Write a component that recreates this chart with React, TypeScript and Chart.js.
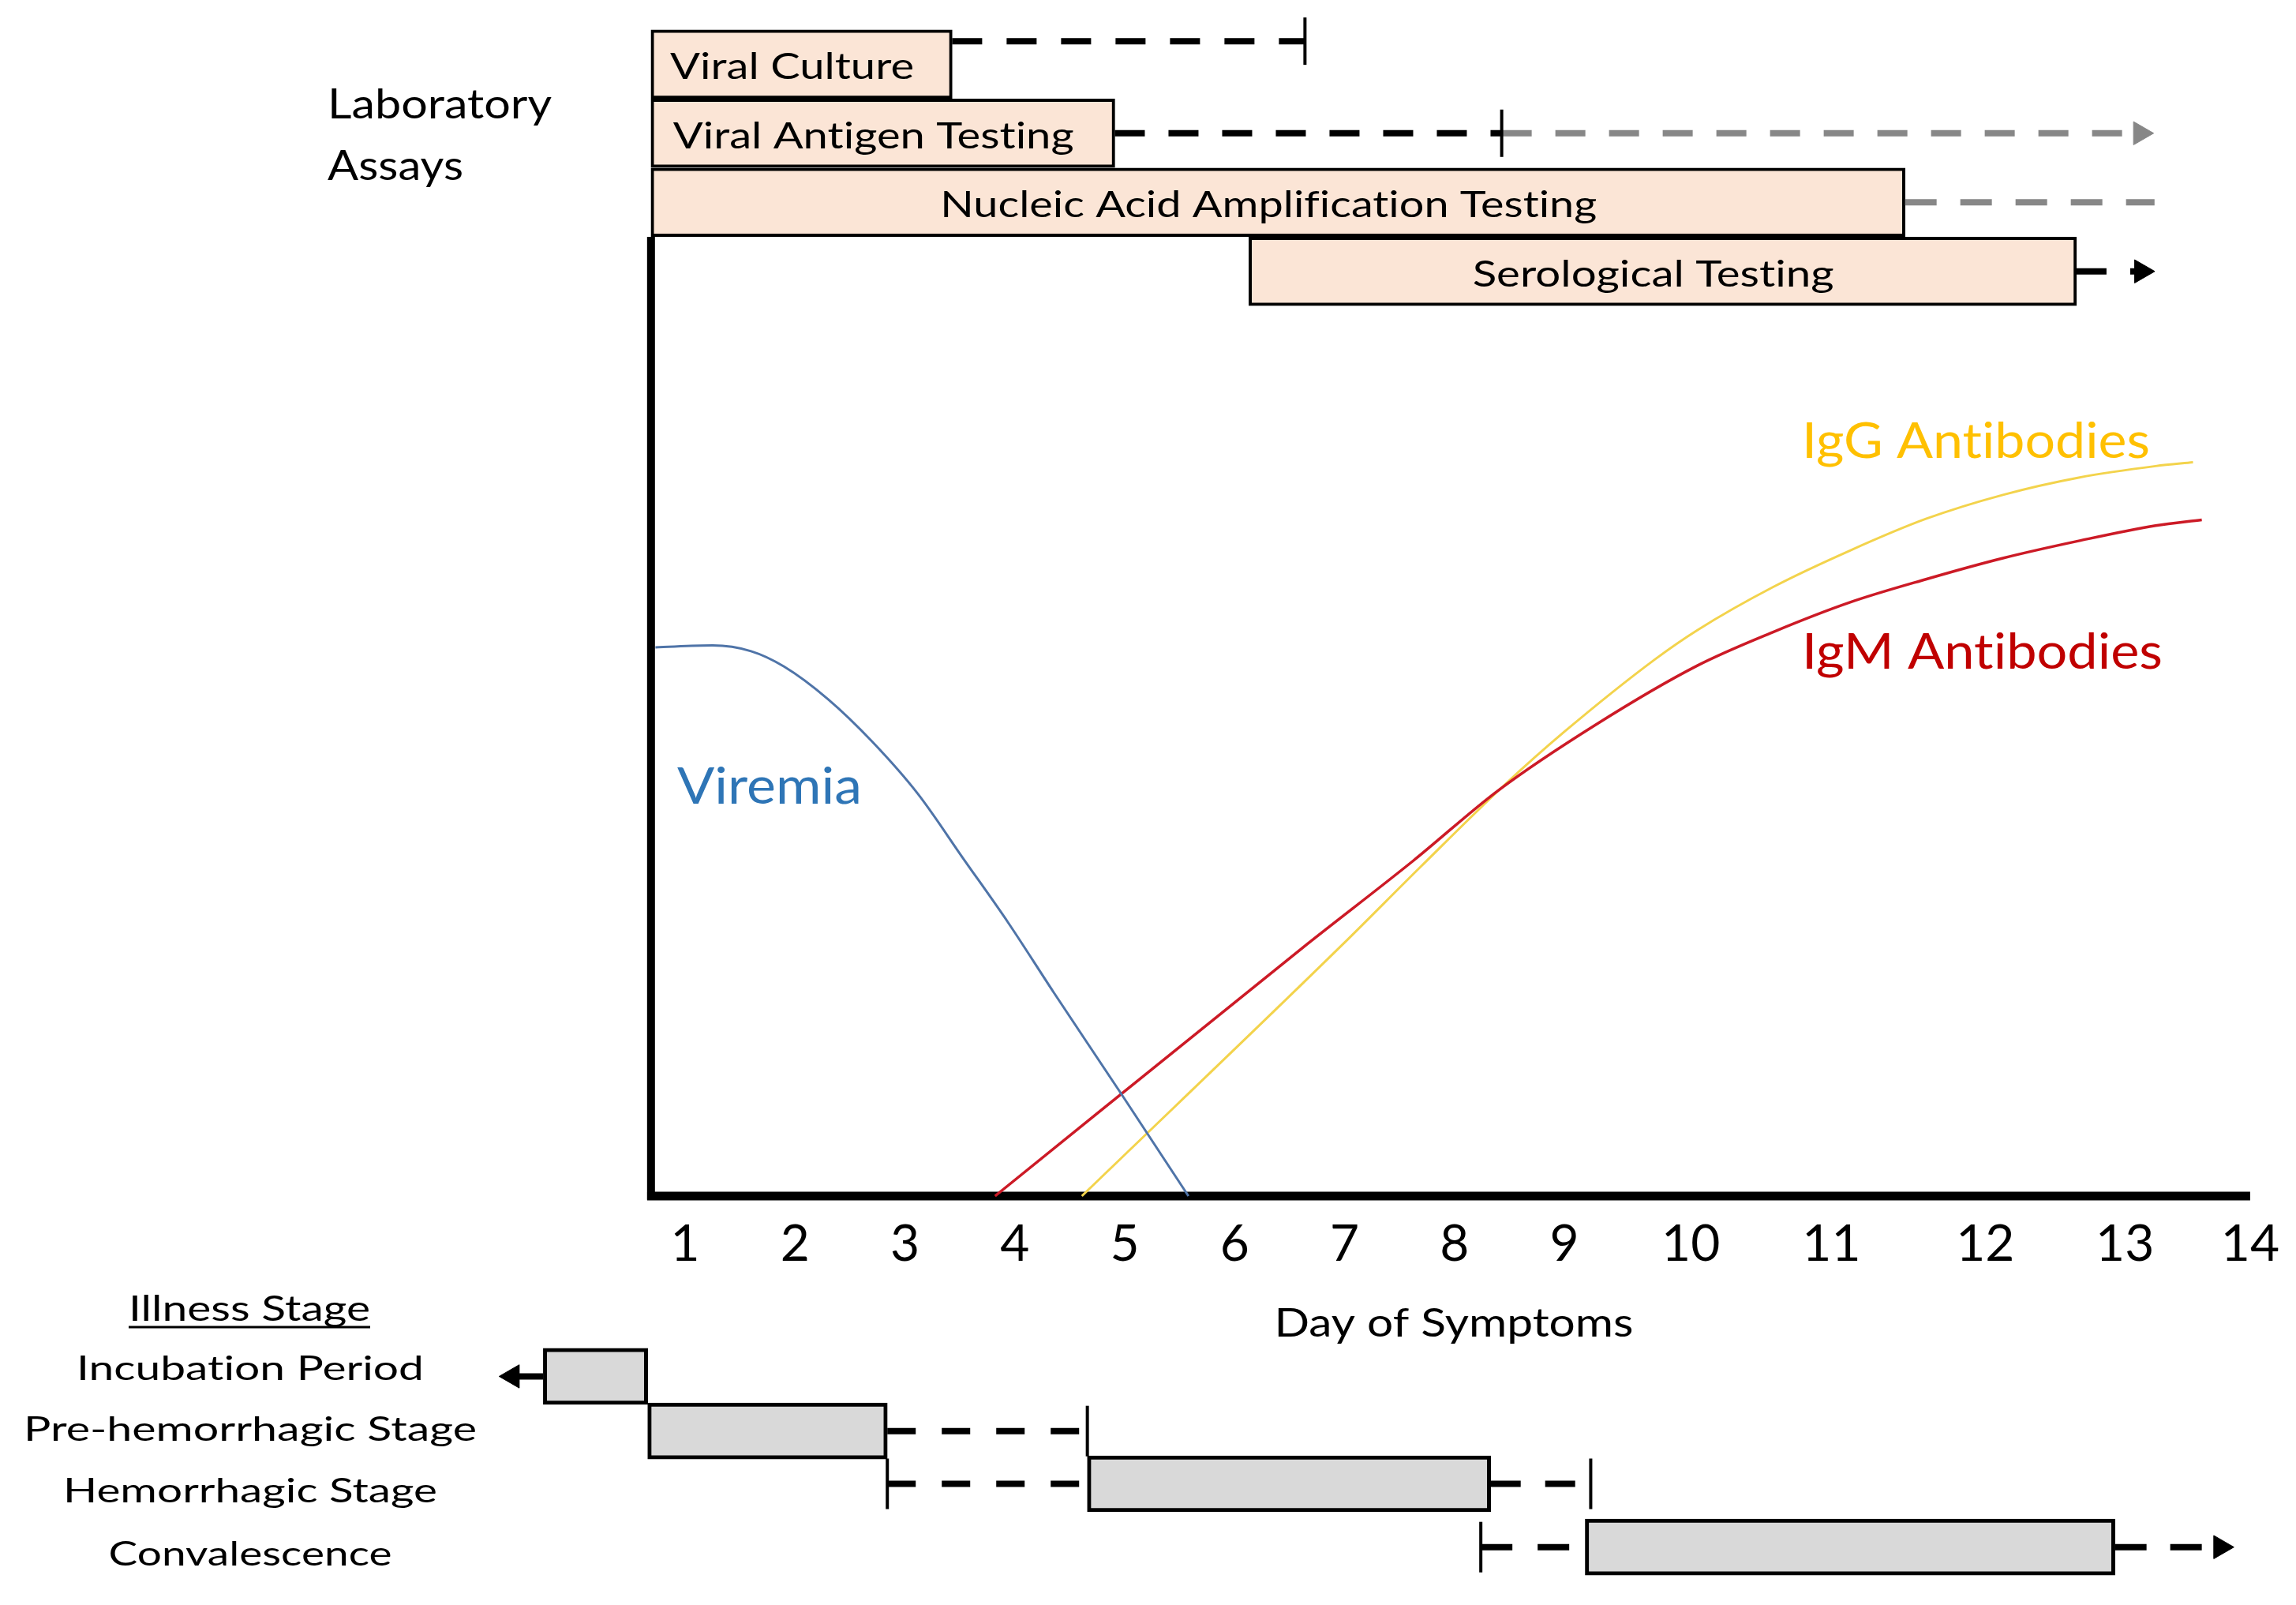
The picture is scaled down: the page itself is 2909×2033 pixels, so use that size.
import React, { useEffect, useRef } from 'react';
import { Chart, registerables } from 'chart.js';

Chart.register(...registerables);

// ---------------- axis ----------------
const tickValues = [1, 2, 3, 4, 5, 6, 7, 8, 9, 10.15, 11.43, 12.83, 14.1, 15.24];
const tickLabels = ['1', '2', '3', '4', '5', '6', '7', '8', '9', '10', '11', '12', '13', '14'];
const axisTitle = 'Day of Symptoms';

// ---------------- curves ----------------
const viremiaX = [0.73, 1.25, 1.6, 1.9, 2.3, 2.7, 3.12, 3.53, 3.94, 4.35, 4.96, 5.58];
const viremiaY = [57.2, 57.4, 56.8, 55.2, 51.8, 47.4, 41.9, 35.2, 28.5, 21.3, 10.8, 0];
const igmX = [3.82, 6.62, 7.63, 8.4, 9.28, 10.21, 10.9, 11.6, 12.29, 12.99, 13.68, 14.38, 14.8];
const igmY = [0, 25.9, 35.0, 42.3, 49.1, 55.3, 58.8, 61.9, 64.3, 66.5, 68.3, 69.9, 70.5];
const iggX = [4.61, 6.98, 7.69, 8.45, 9.01, 9.83, 10.21, 10.9, 11.6, 12.29, 12.99, 13.68, 14.38, 14.72];
const iggY = [0, 26.2, 34.3, 42.8, 48.5, 56.0, 59.0, 63.5, 67.3, 70.6, 73.1, 74.9, 76.1, 76.5];
const curveNames = ['Viremia', 'IgM Antibodies', 'IgG Antibodies'];

// ---------------- laboratory assays ----------------
const assayNames = ['Viral Culture', 'Viral Antigen Testing', 'Nucleic Acid Amplification Testing', 'Serological Testing'];
const assayRow = [118, 110.8, 103.6, 96.4];
const assayStart = [0.69, 0.69, 0.69, 6.13];
const assayEnd = [3.43, 4.91, 12.1, 13.66];
const cultureExt = [3.43, 6.64];
const cultureExtRow = 120.4;
const antigenExt = [4.91, 8.43];
const antigenLateExt = [8.43, 14.24];
const naatExt = [12.1, 14.37];
const serologyExt = [13.66, 14.25];

// ---------------- illness stages ----------------
const stageTitle = 'Illness Stage';
const stageNames = ['Incubation Period', 'Pre-hemorrhagic Stage', 'Hemorrhagic Stage', 'Convalescence'];
const stageRow = [-18.8, -24.5, -30.0, -36.6];
const stageStart = [-0.29, 0.66, 4.66, 9.19];
const stageEnd = [0.66, 2.84, 8.33, 14.01];
const incubationExt = [-0.29, -0.57];
const preHemExt = [2.84, 4.66];
const hemLeadExt = [2.84, 4.66];
const hemTailExt = [8.33, 9.24];
const convLeadExt = [8.24, 9.19];
const convTailExt = [14.01, 14.97];

// ---------------- axis frame lines ----------------
const frameX = [0.655, 15.24];
const frameYAt = 0.69;
const frameY = [-0.4, 100];

// ---------------- layout (pixels / styles) ----------------
const W = 2909;
const H = 2033;
// pixel anchoring of the value axes
const X_ANCHOR_PX = 868; // pixel of x = 1
const X_PX_PER_UNIT = 139.25;
const Y_ANCHOR_PX = 1515; // pixel of y = 0
const Y_PX_PER_UNIT = 12.15;
const FONT = 'Lato';
const BLACK = '#000000';
const GRAY = '#878787';
const ASSAY_FILL = '#fbe5d6';
const STAGE_FILL = '#d9d9d9';
const assayTextWidth = [309, 508, 832, 458];
const stageTextWidth = [440, 574, 474, 359];
const stageTextBaseline = [1748, 1825, 1903, 1983];

type Mark = 'none' | 'cap' | 'arrowR' | 'arrowL';

function drawText(
  ctx: CanvasRenderingContext2D,
  text: string,
  x: number,
  y: number,
  size: number,
  width: number | null,
  align: 'left' | 'center',
  color: string
) {
  ctx.save();
  ctx.font = `${size}px ${FONT}`;
  try {
    (ctx as any).letterSpacing = '0.01px';
  } catch (e) {
    /* ignore */
  }
  ctx.fillStyle = color;
  ctx.textBaseline = 'alphabetic';
  ctx.textAlign = 'left';
  const w = ctx.measureText(text).width;
  const sx = width ? width / w : 1;
  const left = align === 'center' ? x - (w * sx) / 2 : x;
  ctx.translate(left, y);
  ctx.scale(sx, 1);
  ctx.fillText(text, 0, 0);
  ctx.restore();
}

function curve(label: string, xs: number[], ys: number[], color: string, width: number) {
  return {
    type: 'line',
    label,
    data: xs.map((x, i) => ({ x, y: ys[i] })),
    borderColor: color,
    borderWidth: width,
    pointRadius: 0,
    cubicInterpolationMode: 'monotone',
    fill: false,
    order: 1,
    clip: false,
  };
}

function ext(
  label: string,
  range: number[],
  row: number,
  color: string,
  dash: number[],
  startMark: Mark,
  endMark: Mark,
  capRadius = 30
) {
  const marks = [startMark, endMark];
  return {
    type: 'line',
    label,
    data: [
      { x: range[0], y: row },
      { x: range[1], y: row },
    ],
    borderColor: color,
    borderWidth: 8,
    borderDash: dash,
    borderCapStyle: 'butt',
    tension: 0,
    fill: false,
    pointStyle: marks.map((m) => (m === 'cap' ? 'line' : m === 'none' ? 'circle' : 'triangle')),
    pointRotation: marks.map((m) => (m === 'cap' || m === 'arrowR' ? 90 : m === 'arrowL' ? 270 : 0)),
    pointRadius: marks.map((m) => (m === 'none' ? 0 : m === 'cap' ? capRadius : 17)),
    pointBorderWidth: marks.map((m) => (m === 'cap' ? 4 : 1)),
    pointBackgroundColor: color,
    pointBorderColor: color,
    order: 3,
    clip: false,
  };
}

const annotate = {
  id: 'annotate',
  afterDatasetsDraw(chart: any) {
    const ctx: CanvasRenderingContext2D = chart.ctx;
    const metaOf = (label: string) =>
      chart.getDatasetMeta(chart.data.datasets.findIndex((d: any) => d.label === label));

    // labels inside assay boxes
    metaOf('assays').data.forEach((el: any, i: number) => {
      const cx = (el.x + el.base) / 2 - 12;
      drawText(ctx, assayNames[i], cx, el.y + 19, 46, assayTextWidth[i], 'center', BLACK);
    });

    // left-side headings
    drawText(ctx, 'Laboratory', 415, 150, 52, 284, 'left', BLACK);
    drawText(ctx, 'Assays', 415, 228, 52, 172, 'left', BLACK);

    drawText(ctx, stageTitle, 316, 1673, 44, 306, 'center', BLACK);
    ctx.save();
    ctx.strokeStyle = BLACK;
    ctx.lineWidth = 3;
    ctx.beginPath();
    ctx.moveTo(163, 1681);
    ctx.lineTo(469, 1681);
    ctx.stroke();
    ctx.restore();
    stageNames.forEach((name, i) => {
      drawText(ctx, name, 317, stageTextBaseline[i], 42, stageTextWidth[i], 'center', BLACK);
    });

    // x-axis title
    drawText(ctx, axisTitle, 1842, 1693, 50, 455, 'center', BLACK);

    // curve labels
    drawText(ctx, curveNames[0], 858, 1018, 64, 234, 'left', '#2e75b6');
    drawText(ctx, curveNames[2], 2283, 580, 62, 441, 'left', '#ffc000');
    drawText(ctx, curveNames[1], 2283, 847, 62, 457, 'left', '#c00000');
  },
};

export default function App() {
  const canvasRef = useRef<HTMLCanvasElement | null>(null);

  useEffect(() => {
    document.body.style.margin = '0';
    const canvas = canvasRef.current;
    if (!canvas) return;

    const datasets: any[] = [
      curve(curveNames[0], viremiaX, viremiaY, '#4f74a8', 3),
      curve(curveNames[1], igmX, igmY, '#cc1a26', 3.5),
      curve(curveNames[2], iggX, iggY, '#f3d34c', 3),
      {
        type: 'bar',
        label: 'assays',
        indexAxis: 'y',
        grouped: false,
        data: assayNames.map((_, i) => ({ x: [assayStart[i], assayEnd[i]], y: assayRow[i] })),
        backgroundColor: ASSAY_FILL,
        borderColor: BLACK,
        borderWidth: 4,
        borderSkipped: false,
        barThickness: 87,
        order: 5,
        clip: false,
      },
      {
        type: 'bar',
        label: 'stages',
        indexAxis: 'y',
        grouped: false,
        data: stageNames.map((_, i) => ({ x: [stageStart[i], stageEnd[i]], y: stageRow[i] })),
        backgroundColor: STAGE_FILL,
        borderColor: BLACK,
        borderWidth: 5,
        borderSkipped: false,
        barThickness: 71,
        order: 5,
        clip: false,
      },
      ext('culture-ext', cultureExt, cultureExtRow, BLACK, [38, 31], 'none', 'cap'),
      ext('antigen-ext', antigenExt, assayRow[1], BLACK, [38, 30], 'none', 'cap'),
      ext('antigen-late-ext', antigenLateExt, assayRow[1], GRAY, [38, 30], 'none', 'arrowR'),
      ext('naat-ext', naatExt, assayRow[2], GRAY, [40, 30], 'none', 'none'),
      ext('serology-ext', serologyExt, assayRow[3], BLACK, [38, 30], 'none', 'arrowR'),
      ext('incubation-ext', incubationExt, stageRow[0], BLACK, [], 'none', 'arrowL'),
      ext('prehem-ext', preHemExt, stageRow[1], BLACK, [36, 33], 'none', 'cap', 32),
      ext('hem-lead-ext', hemLeadExt, stageRow[2], BLACK, [36, 33], 'cap', 'none', 32),
      ext('hem-tail-ext', hemTailExt, stageRow[2], BLACK, [38, 31], 'none', 'cap', 32),
      ext('conv-lead-ext', convLeadExt, stageRow[3], BLACK, [40, 32], 'cap', 'none', 32),
      ext('conv-tail-ext', convTailExt, stageRow[3], BLACK, [40, 30], 'none', 'arrowR'),
      {
        type: 'line',
        label: 'x-axis-line',
        data: [
          { x: frameX[0], y: 0 },
          { x: frameX[1], y: 0 },
        ],
        borderColor: BLACK,
        borderWidth: 11,
        pointRadius: 0,
        order: 9,
        clip: false,
      },
      {
        type: 'line',
        label: 'y-axis-line',
        data: [
          { x: frameYAt, y: frameY[0] },
          { x: frameYAt, y: frameY[1] },
        ],
        borderColor: BLACK,
        borderWidth: 10,
        pointRadius: 0,
        order: 9,
        clip: false,
      },
    ];

    const chart = new Chart(canvas, {
      type: 'line',
      data: { datasets },
      options: {
        animation: false,
        responsive: false,
        devicePixelRatio: 1,
        events: [],
        layout: { padding: 0, autoPadding: false },
        plugins: {
          legend: { display: false },
          tooltip: { enabled: false },
          title: { display: false },
        },
        scales: {
          x: {
            type: 'linear',
            min: -5.233,
            max: 15.657,
            offset: false,
            grace: 0,
            beginAtZero: false,
            position: { y: 0 },
            grid: { display: false, drawTicks: false, offset: false },
            border: { display: false },
            ticks: {
              autoSkip: false,
              maxRotation: 0,
              minRotation: 0,
              padding: 29,
              color: BLACK,
              font: { family: FONT, size: 64, lineHeight: 1 },
              callback: (_v: any, i: number) => tickLabels[i] ?? '',
            },
            afterBuildTicks: (s: any) => {
              s.ticks = tickValues.map((v) => ({ value: v }));
            },
            afterFit: (s: any) => {
              s.paddingLeft = 0;
              s.paddingRight = 0;
            },
            title: { display: false },
          },
          y: {
            type: 'linear',
            min: -42.63,
            max: 124.69,
            offset: false,
            grace: 0,
            beginAtZero: false,
            grid: { offset: false },
            display: false,
          },
        },
      } as any,
      plugins: [annotate],
    } as any);

    // anchor the value axes to the pixel grid of the reference figure
    for (let k = 0; k < 4; k++) {
      const xs: any = chart.scales.x;
      const ys: any = chart.scales.y;
      const sc: any = (chart.options as any).scales;
      const xPixMin = xs.getPixelForValue(xs.min);
      const xPixMax = xs.getPixelForValue(xs.max);
      const yPixMin = ys.getPixelForValue(ys.min);
      const yPixMax = ys.getPixelForValue(ys.max);
      sc.x.min = 1 + (xPixMin - X_ANCHOR_PX) / X_PX_PER_UNIT;
      sc.x.max = 1 + (xPixMax - X_ANCHOR_PX) / X_PX_PER_UNIT;
      sc.y.min = (Y_ANCHOR_PX - yPixMin) / Y_PX_PER_UNIT;
      sc.y.max = (Y_ANCHOR_PX - yPixMax) / Y_PX_PER_UNIT;
      chart.update();
    }

    return () => {
      chart.destroy();
    };
  }, []);

  return (
    <div style={{ width: W, height: H, background: '#ffffff' }}>
      <canvas ref={canvasRef} width={W} height={H} style={{ display: 'block' }} />
    </div>
  );
}
